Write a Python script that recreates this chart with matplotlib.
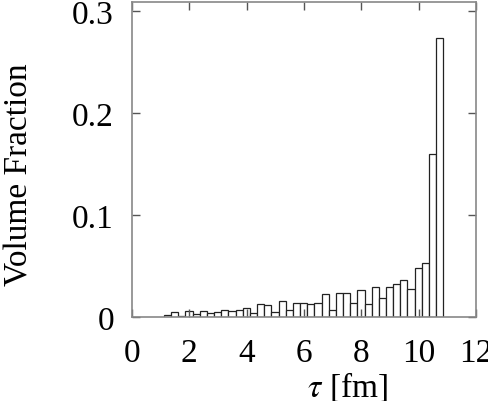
import numpy as np
import matplotlib
matplotlib.use('Agg')
import matplotlib.pyplot as plt

# 直方图数据 (bin 中心, 宽 0.25 fm)
tau_centers = [1.24, 1.49, 1.74, 1.99, 2.24, 2.49, 2.74, 2.99, 3.24, 3.49,
               3.74, 3.99, 4.24, 4.49, 4.74, 4.99, 5.24, 5.49, 5.74, 5.99,
               6.24, 6.49, 6.74, 6.99, 7.24, 7.49, 7.74, 7.99, 8.24, 8.49,
               8.74, 8.99, 9.24, 9.49, 9.74, 9.99, 10.24, 10.49, 10.74]
volume_fraction = [0.0020, 0.0047, 0.0008, 0.0057, 0.0030, 0.0057, 0.0040, 0.0047,
                   0.0067, 0.0062, 0.0065, 0.0085, 0.0040, 0.0124, 0.0115, 0.0049,
                   0.0160, 0.0069, 0.0134, 0.0134, 0.0124, 0.0134, 0.0222, 0.0067,
                   0.0232, 0.0232, 0.0134, 0.0261, 0.0124, 0.0290, 0.0183, 0.0290,
                   0.0325, 0.0363, 0.0270, 0.0477, 0.0530, 0.1600, 0.2735]
bin_width = 0.25

x_ticks = [0, 2, 4, 6, 8, 10, 12]
y_ticks = [0, 0.1, 0.2, 0.3]
y_ticklabels = ['0', '0.1', '0.2', '0.3']

plt.rcParams['font.family'] = ['Liberation Serif', 'DejaVu Serif']
plt.rcParams['mathtext.fontset'] = 'stix'

fig = plt.figure(figsize=(4.89, 4.02), dpi=100)
ax = fig.add_axes([0.27, 0.209, 0.703, 0.7835])

ax.bar(tau_centers, volume_fraction, width=bin_width, facecolor='white',
       edgecolor='#222222', linewidth=0.9, zorder=1)

ax.set_xlim(0, 12)
ax.set_ylim(0, 0.309)
ax.set_xticks(x_ticks)
ax.set_yticks(y_ticks)
ax.set_yticklabels(y_ticklabels)
ax.tick_params(direction='in', top=True, right=True, length=6, width=1,
               color='#555555', labelsize=24)
ax.tick_params(axis='x', pad=15)
ax.tick_params(axis='y', pad=13)
for s in ax.spines.values():
    s.set_color('#888888')
    s.set_linewidth(1.2)

ax.set_xlabel(r'$\tau$ [fm]', fontsize=24)
ax.set_ylabel('Volume Fraction', fontsize=24)
ax.xaxis.set_label_coords(0.628, -0.165)
ax.yaxis.set_label_coords(-0.285, 0.454)

plt.savefig('out.png', dpi=100)
plt.close()
